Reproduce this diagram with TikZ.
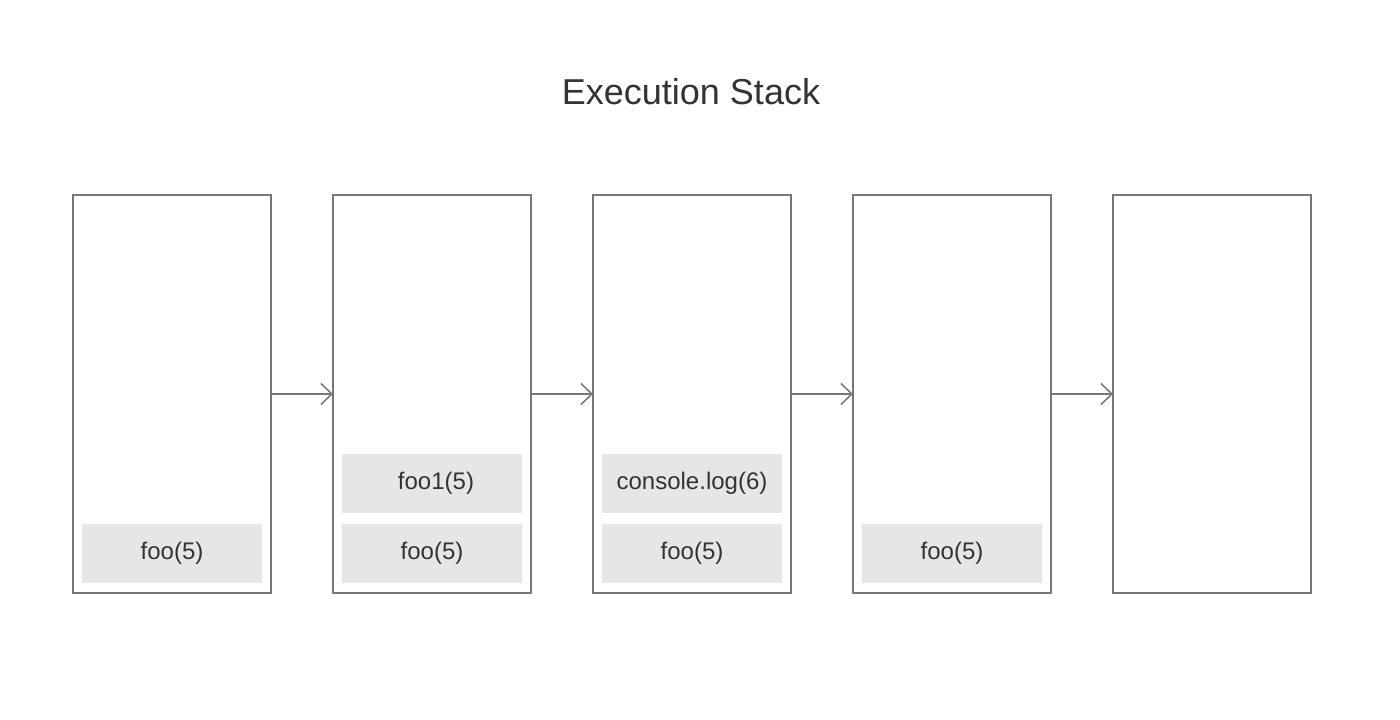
\documentclass[tikz,border=0pt]{standalone}
\usepackage{fontspec}
\setmainfont{Liberation Sans}
\usetikzlibrary{arrows.meta}
\definecolor{edge}{HTML}{777777}
\definecolor{txt}{HTML}{333333}
\definecolor{cell}{HTML}{E6E6E6}
\begin{document}
\begin{tikzpicture}[x=1pt,y=-1pt,
  frame/.style={draw=edge,line width=2pt,minimum width=198pt,minimum height=398pt,inner sep=0pt,outer sep=0pt},
  cellbox/.style={fill=cell,minimum width=180pt,minimum height=59pt,inner sep=0pt,text=txt,font=\fontsize{24}{28}\selectfont},
  link/.style={draw=edge,line width=1.5pt,-{Straight Barb[length=11pt,width=21pt,line width=1.5pt]}}]
\useasboundingbox[fill=white] (0,0) rectangle (1400,720);
\node[text=txt,font=\fontsize{36}{42}\selectfont] (title) at (691,92) {Execution Stack};
\node[frame] (s1) at (172,394) {};
\node[frame] (s2) at (432,394) {};
\node[frame] (s3) at (692,394) {};
\node[frame] (s4) at (952,394) {};
\node[frame] (s5) at (1212,394) {};
\node[cellbox] (c1a) at (172,553.5) {foo(5)};
\node[cellbox] (c2a) at (432,553.5) {foo(5)};
\node[cellbox] (c2b) at (432,483.5) {\hspace*{8pt}foo1(5)};
\node[cellbox] (c3a) at (692,553.5) {foo(5)};
\node[cellbox] (c3b) at (692,483.5) {console.log(6)};
\node[cellbox] (c4a) at (952,553.5) {foo(5)};
\draw[link] (s1.east) -- (s2.west);
\draw[link] (s2.east) -- (s3.west);
\draw[link] (s3.east) -- (s4.west);
\draw[link] (s4.east) -- (s5.west);
\end{tikzpicture}
\end{document}
